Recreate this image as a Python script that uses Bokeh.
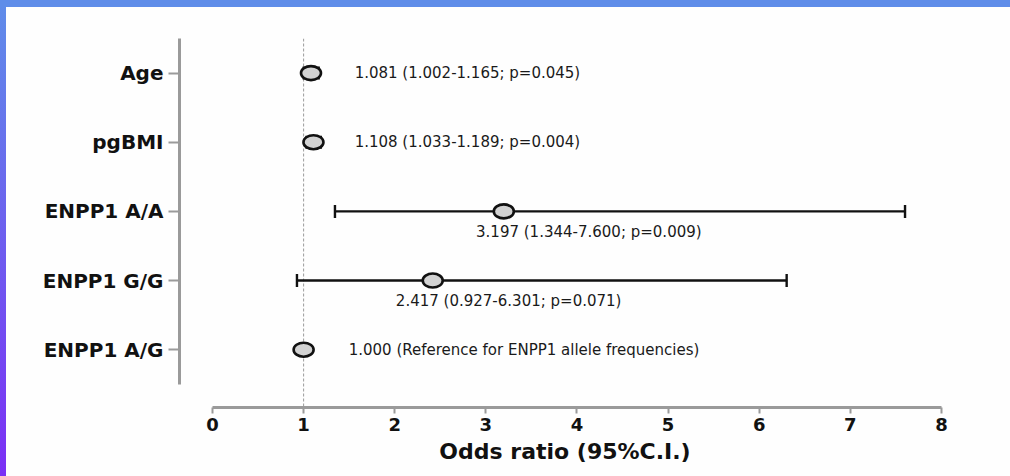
from bokeh.plotting import figure
from bokeh.models import (ColumnDataSource, Whisker, TeeHead, Span, FixedTicker,
                          Range1d, GlobalInlineStyleSheet)
from bokeh.core.properties import value
from bokeh.embed import file_html
from bokeh.resources import INLINE

# ---------------- data ----------------
categories = ["Age", "pgBMI", "ENPP1 A/A", "ENPP1 G/G", "ENPP1 A/G"]
odds_ratio = [1.081, 1.108, 3.197, 2.417, 1.000]
ci_lower = [1.002, 1.033, 1.344, 0.927, None]
ci_upper = [1.165, 1.189, 7.600, 6.301, None]
p_values = ["0.045", "0.004", "0.009", "0.071", None]
reference_note = "Reference for ENPP1 allele frequencies"
x_ticks = [0, 1, 2, 3, 4, 5, 6, 7, 8]
x_label = "Odds ratio (95%C.I.)"

# ---------------- layout of the annotation texts ----------------
label_x = [1.56, 1.56, 4.13, 3.25, 1.495]
label_dy = [0.0, 0.0, -0.30, -0.29, 0.0]
label_align = ["left", "left", "center", "center", "left"]

n = len(categories)
ypos = [n - i for i in range(n)]

texts = []
for o, lo, hi, pv in zip(odds_ratio, ci_lower, ci_upper, p_values):
    if lo is None:
        texts.append(f"{o:.3f} ({reference_note})")
    else:
        texts.append(f"{o:.3f} ({lo:.3f}-{hi:.3f}; p={pv})")

pts = ColumnDataSource(dict(x=odds_ratio, y=ypos))
ci_idx = [i for i in range(n) if ci_lower[i] is not None]
ci = ColumnDataSource(dict(y=[ypos[i] for i in ci_idx],
                           lo=[ci_lower[i] for i in ci_idx],
                           hi=[ci_upper[i] for i in ci_idx]))
lab = ColumnDataSource(dict(x=label_x, y=[y + d for y, d in zip(ypos, label_dy)],
                            text=texts, align=label_align))

css = """
html { min-height: 100%; background:
  linear-gradient(#5f8de9, #5f8de9) left top / 100% 7px no-repeat,
  linear-gradient(180deg, #5f8de9 0%, #6c63ee 45%, #7b2ff5 100%) left top / 6px 100% no-repeat,
  #fefefe !important; }
body { background: transparent !important; }
"""

p = figure(width=1002, height=468, output_backend="svg", toolbar_location=None,
           x_range=Range1d(-0.362, 8.099), y_range=Range1d(0.164, 5.5),
           min_border_left=179, min_border_top=38, min_border_right=52,
           min_border_bottom=61, stylesheets=[GlobalInlineStyleSheet(css=css)])
p.background_fill_color = "#fefefe"
p.border_fill_color = None
p.outline_line_color = None
p.xgrid.grid_line_color = None
p.ygrid.grid_line_color = None

# reference line at OR = 1
p.add_layout(Span(location=1, dimension="height", line_color="#9a9a9a",
                  line_dash="3 2", line_width=1, level="underlay"))

# confidence intervals
head = dict(size=13, line_width=2.4, line_color="#111111")
wh = Whisker(source=ci, base="y", lower="lo", upper="hi", dimension="width",
             line_color="#111111", line_width=2.4, level="underlay",
             lower_head=TeeHead(**head), upper_head=TeeHead(**head))
p.add_layout(wh)

# point estimates
p.ellipse(x="x", y="y", width=20, height=14, width_units="screen",
          height_units="screen", source=pts, fill_color="#d2d2d2",
          line_color="#111111", line_width=2.6)

# annotations
p.text(x="x", y="y", text="text", text_align="align", text_baseline="middle",
       source=lab, text_font=value("DejaVu Sans"), text_font_size="15px",
       text_color="#1a1a1a")

# axes
p.xaxis.ticker = FixedTicker(ticks=x_ticks)
p.xaxis.bounds = (x_ticks[0], x_ticks[-1])
p.xaxis.axis_label = x_label
p.xaxis.axis_label_text_font = "DejaVu Sans"
p.xaxis.axis_label_text_font_style = "bold"
p.xaxis.axis_label_text_font_size = "22px"
p.xaxis.axis_label_text_color = "#111111"
p.xaxis.axis_label_standoff = 5
p.xaxis.major_label_text_font = "DejaVu Sans"
p.xaxis.major_label_text_font_style = "bold"
p.xaxis.major_label_text_font_size = "18px"
p.xaxis.major_label_text_color = "#111111"
p.xaxis.major_label_standoff = 4
p.xaxis.major_tick_out = 6
p.xaxis.major_tick_in = 0

p.yaxis.ticker = FixedTicker(ticks=ypos)
p.yaxis.major_label_overrides = {y: c for y, c in zip(ypos, categories)}
p.yaxis.bounds = (0.5, n + 0.5)
p.yaxis.major_label_text_font = "DejaVu Sans"
p.yaxis.major_label_text_font_style = "bold"
p.yaxis.major_label_text_font_size = "20px"
p.yaxis.major_label_text_color = "#111111"
p.yaxis.major_label_standoff = 5
p.yaxis.major_tick_out = 11
p.yaxis.major_tick_in = 0

for ax in (p.xaxis, p.yaxis):
    ax.axis_line_color = "#9a9a9a"
    ax.axis_line_width = 3
    ax.major_tick_line_color = "#9a9a9a"
    ax.major_tick_line_width = 2
    ax.minor_tick_line_color = None

open("out.html", "w").write(file_html(p, INLINE))
